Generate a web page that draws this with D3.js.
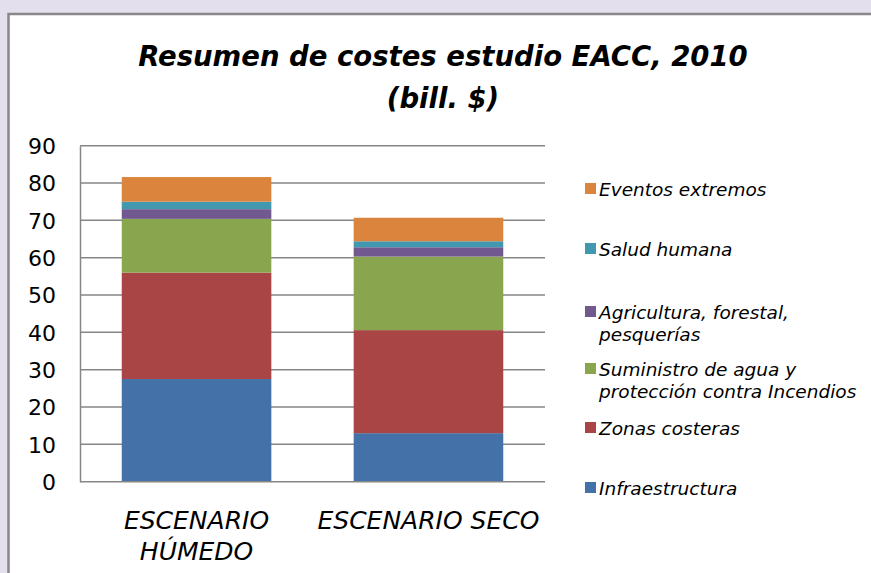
<!DOCTYPE html>
<html>
<head>
<meta charset="utf-8">
<script src="https://cdn.jsdelivr.net/npm/d3@7"></script>
<style>
  body { margin: 0; background: #e4dfec; }
  svg { display: block; }
  .tick text { font-family: "DejaVu Sans", sans-serif; }
</style>
</head>
<body>
<div id="chart"></div>
<script>
// data
const categories = ["ESCENARIO HÚMEDO", "ESCENARIO SECO"];
const seriesNames = ["Infraestructura", "Zonas costeras", "Suministro de agua y protección contra Incendios",
  "Agricultura, forestal, pesquerías", "Salud humana", "Eventos extremos"];
const infraestructura = [27.5, 13.0];
const zonasCosteras = [28.5, 27.6];
const suministroAgua = [14.4, 19.7];
const agricultura = [2.6, 2.5];
const saludHumana = [2.0, 1.6];
const eventosExtremos = [6.6, 6.3];
const yTicks = [0, 10, 20, 30, 40, 50, 60, 70, 80, 90];

const seriesValues = [infraestructura, zonasCosteras, suministroAgua, agricultura, saludHumana, eventosExtremos];
const colors = ["#4472a8", "#a94544", "#89a54e", "#71588f", "#4198af", "#db843d"];
const legendLines = [
  ["Infraestructura"], ["Zonas costeras"], ["Suministro de agua y", "protección contra Incendios"],
  ["Agricultura, forestal,", "pesquerías"], ["Salud humana"], ["Eventos extremos"]
];

(function () {
  const W = 871, H = 573;
  const plot = { left: 80, right: 545, top: 145.7, bottom: 481.7 };

  const svg = d3.select("#chart").append("svg")
    .attr("width", W).attr("height", H);

  // white chart area with grey frame
  svg.append("rect")
    .attr("x", 8.5).attr("y", 14).attr("width", W + 10).attr("height", H + 10)
    .attr("fill", "#fff").attr("stroke", "#888").attr("stroke-width", 2.5);

  // title
  const title = svg.append("text")
    .attr("text-anchor", "middle")
    .attr("font-family", "'DejaVu Sans', sans-serif")
    .attr("font-weight", "bold").attr("font-style", "italic")
    .attr("font-size", 27.5).attr("fill", "#000");
  title.append("tspan").attr("x", 443).attr("y", 66).text("Resumen de costes estudio EACC, 2010");
  title.append("tspan").attr("x", 443).attr("y", 108).text("(bill. $)");

  const x = d3.scaleBand()
    .domain(categories)
    .range([plot.left, plot.right])
    .paddingInner(0.355).paddingOuter(0.18);
  const y = d3.scaleLinear().domain([0, 90]).range([plot.bottom, plot.top]);

  // gridlines
  svg.append("g")
    .selectAll("line").data(yTicks.slice(1)).enter().append("line")
    .attr("x1", plot.left).attr("x2", plot.right)
    .attr("y1", d => y(d)).attr("y2", d => y(d))
    .attr("stroke", "#868686").attr("stroke-width", 1.5);

  // stacked bars
  const rows = categories.map((c, i) => {
    const r = { cat: c };
    seriesNames.forEach((s, j) => { r[s] = seriesValues[j][i]; });
    return r;
  });
  const stack = d3.stack().keys(seriesNames)(rows);

  svg.append("g").selectAll("g").data(stack).enter().append("g")
    .attr("fill", (d, i) => colors[i])
    .selectAll("rect").data(d => d).enter().append("rect")
    .attr("x", d => x(d.data.cat))
    .attr("y", d => y(d[1]))
    .attr("width", x.bandwidth())
    .attr("height", d => y(d[0]) - y(d[1]));

  // axes
  svg.append("g")
    .attr("transform", "translate(" + plot.left + ",0)")
    .call(d3.axisLeft(y).tickValues(yTicks).tickSize(0).tickPadding(0))
    .call(g => g.select(".domain").attr("stroke", "#868686").attr("stroke-width", 1.5))
    .call(g => g.selectAll("text")
      .attr("x", -24).attr("dy", "0.36em")
      .attr("font-size", 22).attr("fill", "#000"));

  svg.append("line")
    .attr("x1", plot.left).attr("x2", plot.right)
    .attr("y1", plot.bottom).attr("y2", plot.bottom)
    .attr("stroke", "#868686").attr("stroke-width", 1.5);

  // category labels
  const catLines = [["ESCENARIO", "HÚMEDO"], ["ESCENARIO SECO"]];
  categories.forEach((c, i) => {
    const t = svg.append("text")
      .attr("text-anchor", "middle")
      .attr("font-family", "'DejaVu Sans', sans-serif")
      .attr("font-style", "italic").attr("font-size", 25).attr("fill", "#000");
    catLines[i].forEach((ln, k) => {
      t.append("tspan").attr("x", x(c) + x.bandwidth() / 2).attr("y", 529 + k * 31).text(ln);
    });
  });

  // legend (top to bottom reversed order)
  const legendY = [488, 428, 369, 312, 249, 189];
  const legend = svg.append("g");
  seriesNames.forEach((s, i) => {
    legend.append("rect")
      .attr("x", 585).attr("y", legendY[i] - 6).attr("width", 11).attr("height", 11)
      .attr("fill", colors[i]);
    const t = legend.append("text")
      .attr("font-family", "'DejaVu Sans', sans-serif")
      .attr("font-style", "italic").attr("font-size", 18.5).attr("fill", "#000");
    legendLines[i].forEach((ln, k) => {
      t.append("tspan").attr("x", 599).attr("y", legendY[i] + 6.5 + k * 22).text(ln);
    });
  });
})();
</script>
</body>
</html>
